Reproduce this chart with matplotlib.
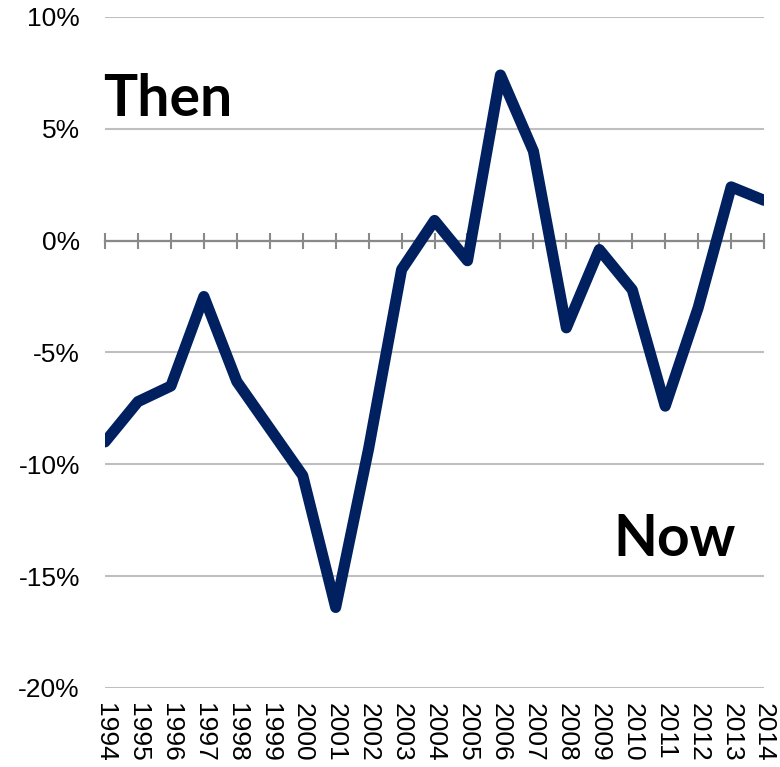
import numpy as np
import matplotlib.pyplot as plt
import matplotlib.transforms as mtransforms

plt.rcParams['font.family'] = ['Liberation Sans', 'DejaVu Sans']
plt.rcParams['axes.unicode_minus'] = False

years = list(range(1994, 2015))
growth = [-9.0, -7.2, -6.5, -2.5, -6.3, -8.4, -10.5, -16.4, -9.3, -1.3,
          0.9, -0.9, 7.4, 4.0, -3.9, -0.4, -2.2, -7.4, -3.0, 2.4, 1.8]
y_ticks = [10, 5, 0, -5, -10, -15, -20]

fig = plt.figure(figsize=(7.8, 7.67), dpi=100)
ax = fig.add_axes([0.1346, 0.103, 0.845, 0.875])

ax.plot(years, growth, color='#002060', lw=8, solid_joinstyle='round',
        solid_capstyle='round', zorder=3)

ax.set_xlim(years[0], years[-1])
ax.set_ylim(-20, 10)
ax.set_yticks(y_ticks)
ax.set_yticklabels([f'{v}%' for v in y_ticks], fontsize=19)
ax.tick_params(axis='y', length=0, pad=18)
ax.grid(axis='y', color='#bfbfbf', lw=1.5)
ax.set_axisbelow(True)

for side in ['left', 'right', 'top']:
    ax.spines[side].set_visible(False)
ax.spines['bottom'].set_position(('data', 0))
ax.spines['bottom'].set_color('#898989')
ax.spines['bottom'].set_linewidth(1.6)
ax.set_xticks(years)
ax.set_xticklabels([])
ax.tick_params(axis='x', direction='inout', length=11.5, width=1.5,
               color='#898989')

# year labels sit under the plot, not at the zero line
trans = mtransforms.blended_transform_factory(ax.transData, ax.transAxes)
for yr in years:
    ax.text(yr, -0.022, str(yr), transform=trans, rotation=270,
            ha='center', va='top', fontsize=19)

ax.text(1993.95, 5.59, 'Then', family=['Lato', 'DejaVu Sans'],
        fontweight='bold', fontsize=41, va='baseline', ha='left')
ax.text(2009.42, -14.1, 'Now', family=['Lato', 'DejaVu Sans'],
        fontweight='bold', fontsize=41, va='baseline', ha='left')

fig.savefig('out.png', dpi=100)
